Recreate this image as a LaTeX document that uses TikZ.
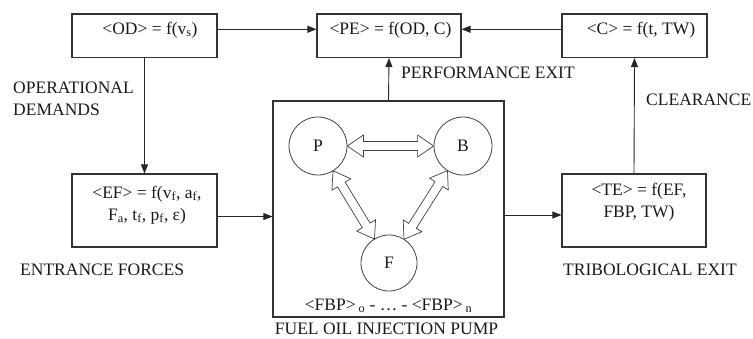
\documentclass[tikz,border=0pt]{standalone}
\usepackage{fontspec}
\setmainfont{Liberation Serif}
\usetikzlibrary{calc,arrows.meta}
\tikzset{
  box/.style={draw=black!80, line width=1.1pt, inner sep=0pt},
  txt/.style={font=\fontsize{17.5}{22}\selectfont, inner sep=0pt, text=black!90},
  conn/.style={draw=black!85, line width=0.9pt, -{Triangle[length=9pt,width=7pt]}},
  ball/.style={circle, draw=black!75, line width=0.8pt, minimum size=58pt, inner sep=0pt,
               font=\fontsize{17.5}{22}\selectfont, text=black!90},
  hollow/.style={draw=black!75, line width=0.7pt, fill=white, line join=miter},
}
\newcommand\hollowarrow[2]{%
  \coordinate (ha1) at ($(#1)!16pt!(#2)$);
  \coordinate (ha2) at ($(#2)!16pt!(#1)$);
  \draw[hollow] (#1) -- ($(ha1)!11pt!90:(#2)$) -- ($(ha1)!4.5pt!90:(#2)$)
    -- ($(ha2)!4.5pt!-90:(#1)$) -- ($(ha2)!11pt!-90:(#1)$) -- (#2)
    -- ($(ha2)!11pt!90:(#1)$) -- ($(ha2)!4.5pt!90:(#1)$)
    -- ($(ha1)!4.5pt!-90:(#2)$) -- ($(ha1)!11pt!-90:(#2)$) -- cycle;
}
\begin{document}
\begin{tikzpicture}[x=1pt, y=-1pt]
\useasboundingbox (0,0) rectangle (753,338);
% boxes
\node[box, minimum width=145pt, minimum height=43.5pt] (OD) at (144.5,35.75) {};
\node[box, minimum width=144pt, minimum height=43.5pt] (PE) at (389,35.75) {};
\node[box, minimum width=145pt, minimum height=43.5pt] (C)  at (634.5,35.75) {};
\node[box, minimum width=145pt, minimum height=73pt] (EF) at (144.5,210.5) {};
\node[box, minimum width=144pt, minimum height=73pt] (TE) at (634,210.5) {};
\node[box, minimum width=231pt, minimum height=216pt] (pump) at (388.5,209) {};
% box texts
\node[txt] (ODt) at (150,30) {<OD> = f(v\textsubscript{s})};
\node[txt] (PEt) at (390.5,30) {<PE> = f(OD, C)};
\node[txt] (Ct)  at (641,30) {<C> = f(t, TW)};
\node[txt, align=center] (EFt) at (147,205) {<EF> = f(v\textsubscript{f}, a\textsubscript{f},\\F\textsubscript{a}, t\textsubscript{f}, p\textsubscript{f}, ε)};
\node[txt, align=center] (TEt) at (639,202.5) {<TE> = f(EF,\\FBP, TW)};
% circles
\node[ball] (P) at (318,146) {P};
\node[ball] (B) at (463,146) {B};
\node[ball, minimum size=56pt] (F) at (389,263) {F};
\coordinate (pf1) at ($(P)!29pt!(F)$);
\coordinate (pf2) at ($(F)!28pt!(P)$);
\coordinate (bf1) at ($(B)!29pt!(F)$);
\coordinate (bf2) at ($(F)!28pt!(B)$);
\hollowarrow{P.east}{B.west}
\hollowarrow{pf1}{pf2}
\hollowarrow{bf1}{bf2}
\node[txt] (FBP) at (388.5,306) {<FBP>\,\textsubscript{o} - … - <FBP>\,\textsubscript{n}};
\node[txt] (FOIP) at (386.5,328.5) {FUEL OIL INJECTION PUMP};
% labels
\node[txt, align=left, anchor=east] (OPD) at (134,98.5) {OPERATIONAL\\DEMANDS};
\node[txt, anchor=west] (PX) at (401,73) {PERFORMANCE EXIT};
\node[txt, anchor=west] (CL) at (646,100) {CLEARANCE};
\node[txt, anchor=west] (EFL) at (20,270) {ENTRANCE FORCES};
\node[txt] (TXL) at (650,270) {TRIBOLOGICAL EXIT};
% connectors
\draw[conn] ([yshift=6.5pt]OD.east) -- ([yshift=6.5pt]PE.west);
\draw[conn] ([yshift=6.5pt]C.west) -- ([yshift=6.5pt]PE.east);
\draw[conn] (OD.south) -- (EF.north);
\draw[conn] ([yshift=-6pt]EF.east) -- ([yshift=-6pt]EF.east -| pump.west);
\draw[conn] ([yshift=-6pt]pump.east) -- ([yshift=-6pt]pump.east -| TE.west);
\draw[conn] (pump.north) -- (PE.south);
\draw[conn] (TE.north) -- (C.south);
\end{tikzpicture}
\end{document}
